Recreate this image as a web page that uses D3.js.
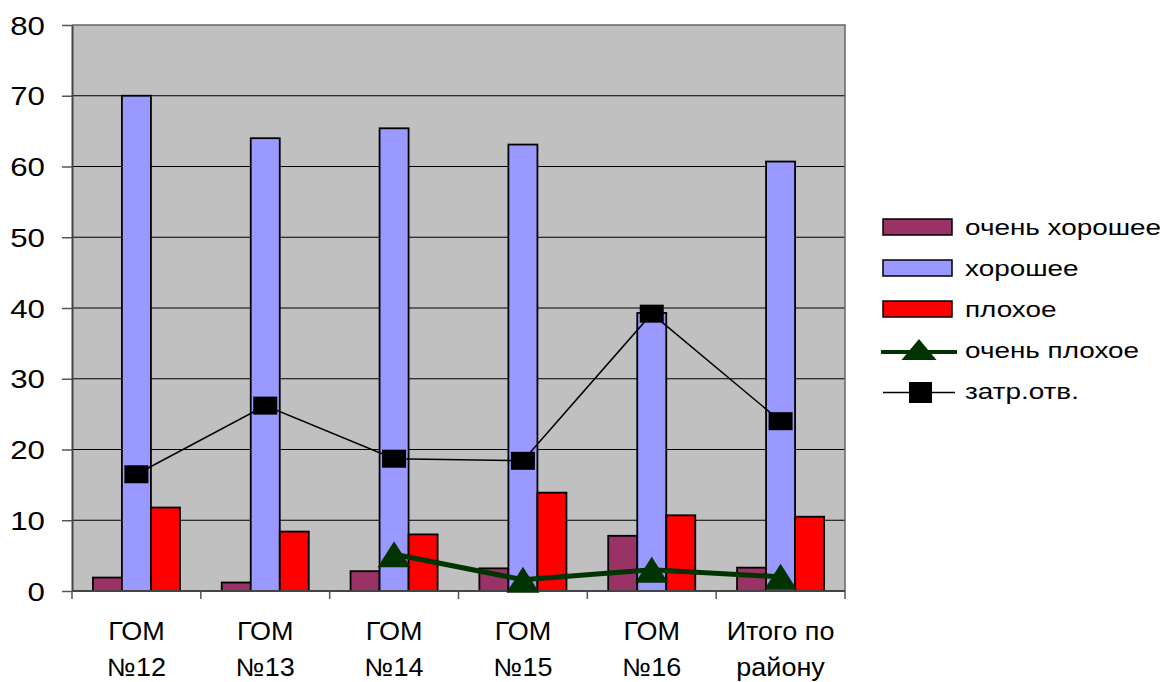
<!DOCTYPE html>
<html>
<head>
<meta charset="utf-8">
<script src="https://cdn.jsdelivr.net/npm/d3@7"></script>
<style>
  html, body { margin: 0; padding: 0; background: #fff; }
  svg { display: block; }
  text { font-family: "Liberation Sans", Arial, sans-serif; fill: #000; }
</style>
</head>
<body>
<svg id="chart" width="1167" height="682"></svg>
<script>
// ---- data ----
const categories = [["ГОМ", "№12"], ["ГОМ", "№13"], ["ГОМ", "№14"], ["ГОМ", "№15"], ["ГОМ", "№16"], ["Итого по", "району"]];
const barSeries = ["очень хорошее", "хорошее", "плохое"];
const veryGood = [1.9, 1.2, 2.8, 3.2, 7.8, 3.3];
const good = [70.0, 64.0, 65.4, 63.1, 39.3, 60.7];
const bad = [11.8, 8.4, 8.0, 13.9, 10.7, 10.5];
const veryBad = [null, null, 5.2, 1.6, 3.0, 2.0];
const difficult = [16.5, 26.2, 18.7, 18.4, 39.2, 24.0];
const yTicks = [0, 10, 20, 30, 40, 50, 60, 70, 80];
const legendLabels = ["очень хорошее", "хорошее", "плохое", "очень плохое", "затр.отв."];

// ---- styles ----
const barColors = ["#993366", "#9999FF", "#FF0000"];
const greenLine = "#003300";

const svg = d3.select("#chart");
const L = 72, R = 845, T = 25, B = 591;

const x = d3.scaleBand().domain(d3.range(categories.length)).range([L, R]).padding(0);
const x1 = d3.scaleBand().domain(d3.range(barSeries.length)).range([0, x.bandwidth()]).paddingInner(0).paddingOuter(0.72);
const y = d3.scaleLinear().domain([0, 80]).range([B, T]);

// plot background
svg.append("rect").attr("x", L).attr("y", T).attr("width", R - L).attr("height", B - T).attr("fill", "#C0C0C0");

// gridlines
svg.append("g").selectAll("line").data(yTicks.filter(d => d > 0 && d < 80)).join("line")
  .attr("x1", L).attr("x2", R).attr("y1", d => y(d)).attr("y2", d => y(d))
  .attr("stroke", "#000").attr("stroke-width", 1);

// border top/right
svg.append("path").attr("d", `M${L},${T}H${R}V${B}`).attr("fill", "none").attr("stroke", "#666").attr("stroke-width", 1.5);

// bars
const barData = [veryGood, good, bad];
const bars = svg.append("g");
barData.forEach((vals, s) => {
  bars.selectAll(null).data(vals).join("rect")
    .attr("x", (d, i) => x(i) + x1(s))
    .attr("y", d => y(d))
    .attr("width", x1.bandwidth())
    .attr("height", d => B - y(d))
    .attr("fill", barColors[s])
    .attr("stroke", "#000").attr("stroke-width", 1.8);
});

// y axis
const yAxis = d3.axisLeft(y).tickValues(yTicks).tickSize(10).tickPadding(0).tickSizeOuter(0);
const gy = svg.append("g").attr("transform", `translate(${L},0)`).call(yAxis);
gy.select(".domain").attr("stroke", "#444").attr("stroke-width", 2);
gy.selectAll(".tick line").attr("stroke", "#555").attr("stroke-width", 1.5);
gy.selectAll(".tick text").remove();
gy.selectAll(".tick").append("text")
  .attr("transform", "translate(-27,9) scale(1.25,1)")
  .attr("text-anchor", "end")
  .style("font-size", "25px")
  .text(d => d);

// x axis
const xBound = d3.range(categories.length + 1).map(i => L + i * x.bandwidth());
svg.append("line").attr("x1", L).attr("x2", R).attr("y1", B).attr("y2", B).attr("stroke", "#444").attr("stroke-width", 2);
svg.append("g").selectAll("line").data(xBound).join("line")
  .attr("x1", d => d).attr("x2", d => d).attr("y1", B).attr("y2", B + 8)
  .attr("stroke", "#555").attr("stroke-width", 1.5);
const xl = svg.append("g").selectAll("g").data(categories).join("g")
  .attr("transform", (d, i) => `translate(${x(i) + x.bandwidth() / 2},0)`);
xl.each(function(lines) {
  lines.forEach((t, k) => {
    d3.select(this).append("text")
      .attr("transform", `translate(0,${640 + k * 35.5}) scale(1.08,1)`)
      .attr("text-anchor", "middle").style("font-size", "25px").text(t);
  });
});

// lines
const cx = i => x(i) + x.bandwidth() / 2;
const triPath = (w, h) => `M0,${-h / 2}L${w / 2},${h / 2}L${-w / 2},${h / 2}Z`;

const vbPts = veryBad.map((v, i) => ({ i, v })).filter(d => d.v != null);
svg.append("path").datum(vbPts)
  .attr("d", d3.line().x(d => cx(d.i)).y(d => y(d.v)))
  .attr("fill", "none").attr("stroke", greenLine).attr("stroke-width", 5);
svg.append("g").selectAll("path").data(vbPts).join("path")
  .attr("transform", d => `translate(${cx(d.i)},${y(d.v)})`)
  .attr("d", triPath(33, 26)).attr("fill", greenLine);

const dfPts = difficult.map((v, i) => ({ i, v }));
svg.append("path").datum(dfPts)
  .attr("d", d3.line().x(d => cx(d.i)).y(d => y(d.v)))
  .attr("fill", "none").attr("stroke", "#000").attr("stroke-width", 1.5);
svg.append("g").selectAll("rect").data(dfPts).join("rect")
  .attr("x", d => cx(d.i) - 12).attr("y", d => y(d.v) - 9)
  .attr("width", 24).attr("height", 18).attr("fill", "#000");

// legend
const lg = svg.append("g");
const rowY = [227, 268, 309, 350, 391];
legendLabels.forEach((lab, k) => {
  const cyR = rowY[k];
  if (k < 3) {
    lg.append("rect").attr("x", 883).attr("y", cyR - 8).attr("width", 69).attr("height", 16)
      .attr("fill", barColors[k]).attr("stroke", "#000").attr("stroke-width", 1.5);
  } else if (k === 3) {
    lg.append("line").attr("x1", 881).attr("x2", 957).attr("y1", cyR + 2).attr("y2", cyR + 2)
      .attr("stroke", greenLine).attr("stroke-width", 4);
    lg.append("path").attr("transform", `translate(919,${cyR - 0.5})`).attr("d", triPath(35, 21)).attr("fill", greenLine);
  } else {
    lg.append("line").attr("x1", 883).attr("x2", 955).attr("y1", cyR + 1.5).attr("y2", cyR + 1.5)
      .attr("stroke", "#000").attr("stroke-width", 1.5);
    lg.append("rect").attr("x", 909).attr("y", cyR - 9).attr("width", 23).attr("height", 21).attr("fill", "#000");
  }
  lg.append("text").attr("transform", `translate(965,${cyR + 8}) scale(1.24,1)`)
    .style("font-size", "22.5px").text(lab);
});
</script>
</body>
</html>
